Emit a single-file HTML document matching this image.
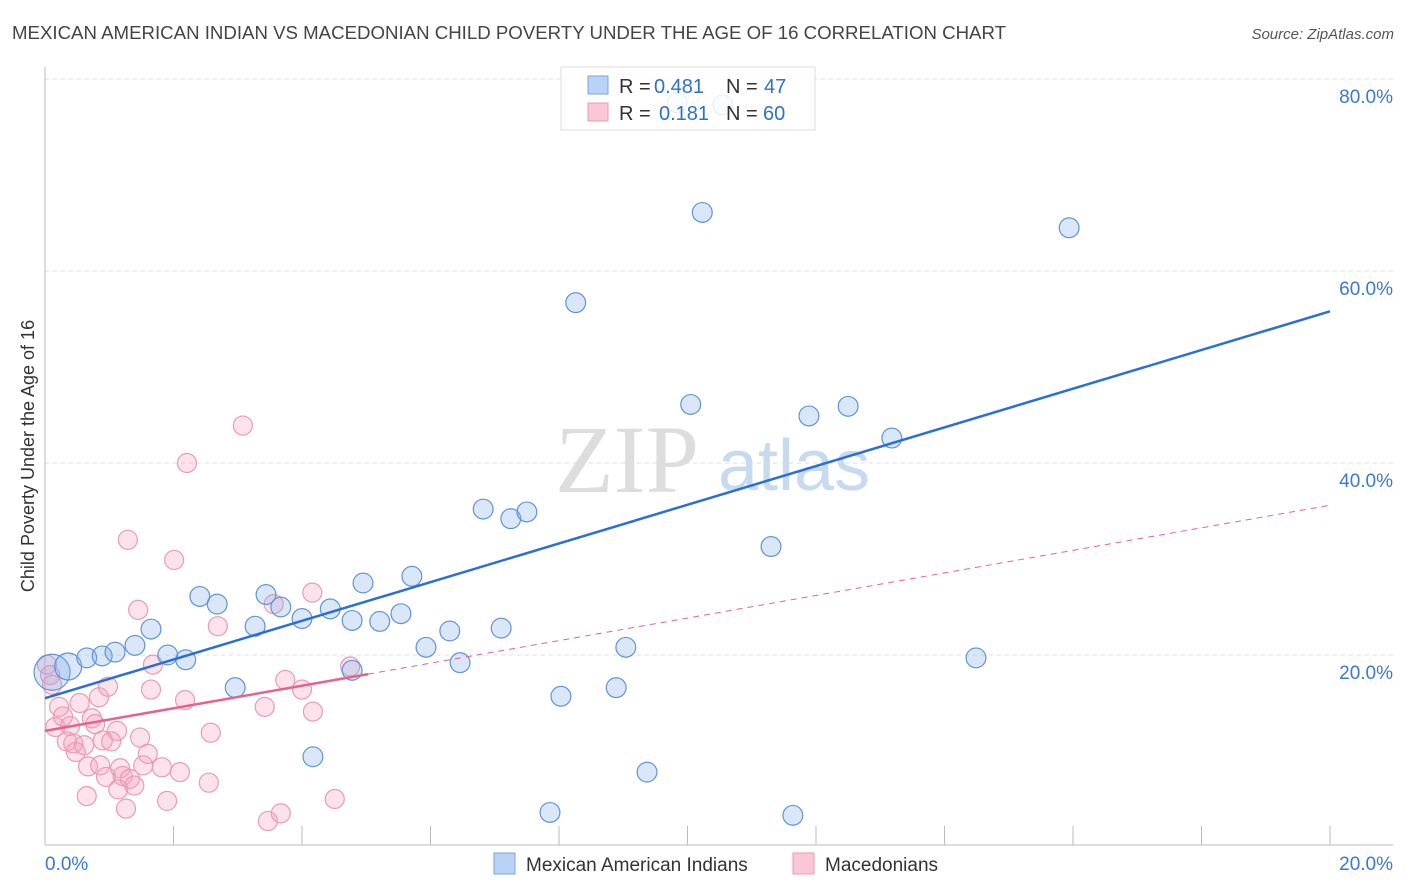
<!DOCTYPE html>
<html><head><meta charset="utf-8"><style>
body{margin:0;background:#fff;font-family:"Liberation Sans",sans-serif;}
svg{display:block}
</style></head><body>
<svg id="chart" width="1406" height="892" xmlns="http://www.w3.org/2000/svg">
<text x="12" y="39" font-size="18" fill="#444" textLength="994" lengthAdjust="spacingAndGlyphs">MEXICAN AMERICAN INDIAN VS MACEDONIAN CHILD POVERTY UNDER THE AGE OF 16 CORRELATION CHART</text>
<text x="1394" y="39" font-size="15" fill="#555" text-anchor="end" font-style="italic">Source: ZipAtlas.com</text>
<text transform="translate(34,456) rotate(-90)" font-size="18" fill="#333" text-anchor="middle">Child Poverty Under the Age of 16</text>
<g>
<text x="555" y="492" font-family="Liberation Serif,serif" font-size="96" fill="#ddd">ZIP</text>
<text x="718" y="490" font-size="72" fill="#c8daf0">atlas</text>
</g>
<g id="grid"></g>
<g id="axes"></g>
<g id="pts"></g>
<g id="trend"></g>
<g>
<rect x="561" y="67" width="254" height="63" fill="rgba(255,255,255,0.85)" stroke="#ddd"/>
<rect x="588" y="76" width="20" height="18" fill="#b8d3f5" stroke="#7aa6e0"/>
<rect x="588" y="103" width="20" height="18" fill="#fbc6d6" stroke="#eb9ab4"/>
<text x="619" y="93" font-size="20" fill="#333">R =</text>
<text x="654" y="93" font-size="20" fill="#2f6fce">0.481</text>
<text x="726" y="93" font-size="20" fill="#333">N =</text>
<text x="764" y="93" font-size="20" fill="#2f6fce">47</text>
<text x="619" y="120" font-size="20" fill="#333">R =</text>
<text x="659" y="120" font-size="20" fill="#2f6fce">0.181</text>
<text x="726" y="120" font-size="20" fill="#333">N =</text>
<text x="763" y="120" font-size="20" fill="#2f6fce">60</text>
</g>
<g>
<rect x="494" y="853" width="21" height="21" fill="#b8d3f5" stroke="#7aa6e0"/>
<text x="526" y="871" font-size="19" fill="#333">Mexican American Indians</text>
<rect x="793" y="853" width="21" height="21" fill="#fbc6d6" stroke="#eb9ab4"/>
<text x="825" y="871" font-size="19" fill="#333">Macedonians</text>
</g>
</svg>
<script>
const yTicks=[20,40,60,80];
const yTickLabels=["20.0%","40.0%","60.0%","80.0%"];
const xTicks=[0,2,4,6,8,10,12,14,16,18,20];
const blueX=[0.11,0.36,0.65,0.89,1.09,1.40,1.65,1.91,2.19,2.41,2.68,2.96,3.27,3.44,3.67,4.00,4.17,4.44,4.78,4.95,5.21,5.54,5.71,5.93,6.30,6.46,6.82,7.10,7.25,7.50,7.86,8.03,8.26,8.89,9.04,9.37,10.05,10.23,11.30,11.64,11.89,12.50,13.18,14.49,15.94,4.78,9.84,10.55];
const blueY=[18.2,18.8,19.7,19.9,20.3,21.0,22.7,20.0,19.5,26.1,25.3,16.6,23.0,26.3,25.0,23.8,9.4,24.8,23.6,27.5,23.5,24.3,28.2,20.8,22.5,19.2,35.2,22.8,34.2,34.9,3.6,15.7,56.7,16.6,20.8,7.8,46.1,66.1,31.3,3.3,44.9,45.9,42.6,19.7,64.5,18.4,77.5,77.3];
const blueR=[20,15,11,11,11,11,11,11,11,11,11,11,11,11,11,11,11,11,11,11,11,11,11,11,11,11,11,11,11,11,11,11,11,11,11,11,11,11,11,11,11,11,11,11,11,11,11,11];
const pinkX=[0.03,0.08,0.11,0.16,0.22,0.28,0.34,0.39,0.44,0.48,0.54,0.61,0.67,0.65,0.73,0.78,0.84,0.86,0.90,0.98,0.95,1.03,1.12,1.14,1.17,1.21,1.26,1.29,1.32,1.39,1.45,1.48,1.53,1.60,1.65,1.68,1.82,1.90,2.01,2.10,2.18,2.21,2.55,2.58,2.69,3.08,3.42,3.47,3.56,3.67,3.74,4.00,4.16,4.17,4.51,4.75];
const pinkY=[19.0,17.9,16.9,12.5,14.6,13.6,11.0,12.6,10.8,9.9,15.0,10.6,8.4,5.3,13.4,12.8,15.6,8.5,11.1,16.7,7.3,11.0,12.1,6.0,8.2,7.4,4.0,32.0,7.1,6.4,24.7,11.4,8.5,9.7,16.4,19.0,8.3,4.8,29.9,7.8,15.3,40.0,6.7,11.9,23.0,43.9,14.6,2.7,25.3,3.5,17.4,16.4,26.5,14.1,5.0,18.8];
const blueTrend=[15.5,55.8];
const pinkTrend=[12.1,35.6];
const pinkSolidEnd=5.03;
const X=v=>45+v*64.25, Y=v=>847-v*9.6;
const NS="http://www.w3.org/2000/svg";
function mk(tag,attrs,parent){const e=document.createElementNS(NS,tag);for(const k in attrs)e.setAttribute(k,attrs[k]);parent.appendChild(e);return e;}
const grid=document.getElementById('grid'),axes=document.getElementById('axes'),pts=document.getElementById('pts'),tr=document.getElementById('trend');
yTicks.forEach((t,i)=>{
 const l=mk('line',{x1:45,x2:1393,y1:Y(t),y2:Y(t),stroke:'#ddd','stroke-dasharray':'4,4'},grid);
 
 
 const tx=mk('text',{x:1393,y:Y(t)+24,'font-size':19,fill:'#3a78d4','text-anchor':'end'},axes);
 tx.textContent=yTickLabels[i];
 
 
});
const ax=mk('line',{x1:45,x2:1393,y1:845,y2:845,stroke:'#bbb'},axes);


const ay=mk('line',{x1:45,x2:45,y1:67,y2:845,stroke:'#bbb'},axes);


xTicks.forEach(t=>{const l=mk('line',{x1:X(t),x2:X(t),y1:826,y2:845,stroke:'#bbb'},axes);
 
 });
const x0=mk('text',{x:45,y:870,'font-size':19,fill:'#3a78d4'},axes);x0.textContent='0.0%';


const x1=mk('text',{x:1393,y:870,'font-size':19,fill:'#3a78d4','text-anchor':'end'},axes);x1.textContent='20.0%';


pinkX.forEach((v,i)=>{const c=mk('circle',{cx:X(v),cy:Y(pinkY[i]),r:9.5,fill:'rgba(245,160,190,0.3)',stroke:'#eb9ab4','stroke-width':1.2},pts);
 
 });
blueX.forEach((v,i)=>{const c=mk('circle',{cx:X(v),cy:Y(blueY[i]),r:blueR[i]*0.9,fill:'rgba(130,175,235,0.3)',stroke:'#5f93d8','stroke-width':1.2},pts);
 
 });
const bt=mk('line',{x1:X(0),y1:Y(blueTrend[0]),x2:X(20),y2:Y(blueTrend[1]),stroke:'#2a6fd6','stroke-width':2.5},tr);


const ps=(pinkTrend[1]-pinkTrend[0])/20;
const pt=mk('line',{x1:X(0),y1:Y(pinkTrend[0]),x2:X(pinkSolidEnd),y2:Y(pinkTrend[0]+ps*pinkSolidEnd),stroke:'#e8628c','stroke-width':2.5},tr);


const pd=mk('line',{x1:X(pinkSolidEnd),y1:Y(pinkTrend[0]+ps*pinkSolidEnd),x2:X(20),y2:Y(pinkTrend[1]),stroke:'#e8628c','stroke-width':1,'stroke-dasharray':'6,5'},tr);


</script>
</body></html>
